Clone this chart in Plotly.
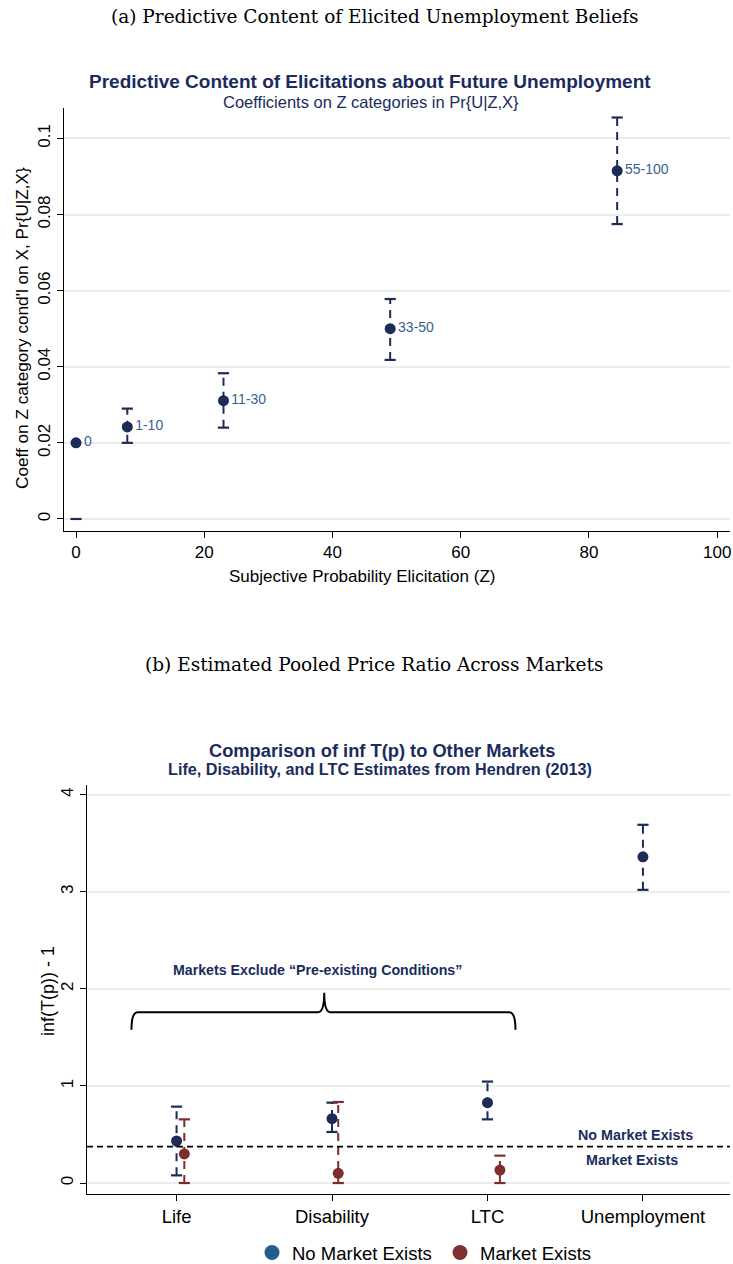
import plotly.graph_objects as go

# ---------------- Data: panel (a) ----------------
z_labels = ["0", "1-10", "11-30", "33-50", "55-100"]
z_x = [0, 8, 23, 49, 84.4]
z_coef = [0.020, 0.0242, 0.0311, 0.0500, 0.0915]
z_lo = [None, 0.0200, 0.0240, 0.0418, 0.0775]
z_hi = [None, 0.0290, 0.0383, 0.0578, 0.1055]
zero_cap_x = [0]
zero_cap_y = [0.0]

# ---------------- Data: panel (b) ----------------
markets = ["Life", "Disability", "LTC", "Unemployment"]
nm_x = [1.0, 2.0, 3.0, 4.0]
nm_val = [0.433, 0.663, 0.828, 3.36]
nm_lo = [0.079, 0.526, 0.656, 3.02]
nm_hi = [0.787, 0.828, 1.045, 3.69]
me_x = [1.05, 2.04, 3.08]
me_val = [0.30, 0.10, 0.134]
me_lo = [0.0, 0.0, 0.0]
me_hi = [0.656, 0.835, 0.282]
threshold = 0.374
bracket_x = [0.71, 1.95, 3.18]
bracket_y = [1.58, 1.76, 1.96]

NAVY = "#1c2b57"
LBL = "#3b5f8c"
TITLE = "#1a2c5e"
RED = "#7e2d2d"
LEG_BLUE = "#285b88"
LEG_RED = "#7f3030"
GRID = "#e8eeee"
FONT = "Liberation Sans"
EB_DASH = "8px,6px"

W, H = 733, 1264

fig = go.Figure()

# ----- panel (a) error bars (dashed) -----
for x, lo, hi in zip(z_x, z_lo, z_hi):
    if lo is None:
        continue
    fig.add_trace(go.Scatter(x=[x, x], y=[lo, hi], mode="lines",
                             line=dict(color=NAVY, width=2, dash=EB_DASH),
                             showlegend=False, hoverinfo="skip", xaxis="x", yaxis="y"))
caps_x = [x for x, lo in zip(z_x, z_lo) if lo is not None]
fig.add_trace(go.Scatter(x=caps_x * 2,
                         y=[v for v in z_lo if v is not None] + [v for v in z_hi if v is not None],
                         mode="markers", marker=dict(symbol="line-ew", size=8,
                                                     line=dict(color=NAVY, width=2.2)),
                         showlegend=False, hoverinfo="skip", xaxis="x", yaxis="y"))
fig.add_trace(go.Scatter(x=zero_cap_x, y=zero_cap_y, mode="markers",
                         marker=dict(symbol="line-ew", size=8, line=dict(color=NAVY, width=2.2)),
                         showlegend=False, hoverinfo="skip", xaxis="x", yaxis="y"))
fig.add_trace(go.Scatter(x=z_x, y=z_coef, mode="markers+text", text=z_labels,
                         textposition="middle right",
                         textfont=dict(family=FONT, size=14, color=LBL),
                         marker=dict(color=NAVY, size=11),
                         showlegend=False, xaxis="x", yaxis="y"))

# ----- panel (b) error bars -----
for x, lo, hi in zip(nm_x, nm_lo, nm_hi):
    fig.add_trace(go.Scatter(x=[x, x], y=[lo, hi], mode="lines",
                             line=dict(color=NAVY, width=2, dash=EB_DASH),
                             showlegend=False, hoverinfo="skip", xaxis="x2", yaxis="y2"))
for x, lo, hi in zip(me_x, me_lo, me_hi):
    fig.add_trace(go.Scatter(x=[x, x], y=[lo, hi], mode="lines",
                             line=dict(color=RED, width=2, dash=EB_DASH),
                             showlegend=False, hoverinfo="skip", xaxis="x2", yaxis="y2"))
fig.add_trace(go.Scatter(x=nm_x * 2, y=nm_lo + nm_hi, mode="markers",
                         marker=dict(symbol="line-ew", size=8, line=dict(color=NAVY, width=2.2)),
                         showlegend=False, hoverinfo="skip", xaxis="x2", yaxis="y2"))
fig.add_trace(go.Scatter(x=me_x * 2, y=me_lo + me_hi, mode="markers",
                         marker=dict(symbol="line-ew", size=8, line=dict(color=RED, width=2.2)),
                         showlegend=False, hoverinfo="skip", xaxis="x2", yaxis="y2"))
fig.add_trace(go.Scatter(x=nm_x, y=nm_val, mode="markers",
                         marker=dict(color=NAVY, size=11),
                         showlegend=False, xaxis="x2", yaxis="y2"))
fig.add_trace(go.Scatter(x=me_x, y=me_val, mode="markers",
                         marker=dict(color=RED, size=11),
                         showlegend=False, xaxis="x2", yaxis="y2"))
# legend-only traces
fig.add_trace(go.Scatter(x=[None], y=[None], mode="markers", name="No Market Exists",
                         marker=dict(color=LEG_BLUE, size=15), xaxis="x2", yaxis="y2",
                         legend="legend"))
fig.add_trace(go.Scatter(x=[None], y=[None], mode="markers", name="Market Exists",
                         marker=dict(color=LEG_RED, size=15), xaxis="x2", yaxis="y2",
                         legend="legend2"))

# threshold line
fig.add_shape(type="line", xref="x2 domain", yref="y2", x0=0, x1=1,
              y0=threshold, y1=threshold, line=dict(color="black", width=1.8, dash="6px,4px"))

# bracket
bx0, bxm, bx1 = bracket_x
by0, bym, byt = bracket_y
r = 0.04
path = (f"M {bx0},{by0} Q {bx0},{bym} {bx0+r},{bym} "
        f"L {bxm-r},{bym} Q {bxm},{bym} {bxm},{byt} "
        f"Q {bxm},{bym} {bxm+r},{bym} L {bx1-r},{bym} Q {bx1},{bym} {bx1},{by0}")
fig.add_shape(type="path", xref="x2", yref="y2", path=path,
              line=dict(color="black", width=2))

def px_y(p):
    return 1 - p / H

def px_x(p):
    return p / W

def note(text, x, y, size, color="black", family=FONT, angle=0):
    return dict(text=text, x=px_x(x), y=px_y(y), xref="paper", yref="paper",
                showarrow=False, xanchor="center", yanchor="middle", textangle=angle,
                font=dict(family=family, size=size, color=color))

ann = [
    note("(a) Predictive Content of Elicited Unemployment Beliefs", 374, 17, 18.5,
         family="DejaVu Serif"),
    note("(b) Estimated Pooled Price Ratio Across Markets", 374, 664, 18.5,
         family="DejaVu Serif"),
    note("<b>Predictive Content of Elicitations about Future Unemployment</b>", 370, 81, 19,
         color=TITLE),
    note("Coefficients on Z categories in Pr{U|Z,X}", 371, 102, 16.5, color=TITLE),
    note("Coeff on Z category cond'l on X, Pr{U|Z,X}", 22, 328, 17.2, angle=-90),
    note("Subjective Probability Elicitation (Z)", 362, 576, 17),
    note("<b>Comparison of inf T(p) to Other Markets</b>", 382, 750, 18.3, color=TITLE),
    note("<b>Life, Disability, and LTC Estimates from Hendren (2013)</b>", 380, 769, 16.2,
         color=TITLE),
    note("inf(T(p)) - 1", 48, 991, 18, angle=-90),
    note("<b>Markets Exclude “Pre-existing Conditions”</b>", 317, 970, 14.2, color=TITLE),
    note("<b>No Market Exists</b>", 635, 1135, 14.3, color=TITLE),
    note("<b>Market Exists</b>", 632, 1160, 14.3, color=TITLE),
]

leg_common = dict(orientation="h", xanchor="left", yanchor="middle", y=px_y(1253),
                  font=dict(family=FONT, size=18.5, color="black"), itemwidth=30,
                  bgcolor="rgba(0,0,0,0)")

fig.update_layout(
    width=W, height=H, margin=dict(l=0, r=0, t=0, b=0, autoexpand=False),
    paper_bgcolor="white", plot_bgcolor="white",
    font=dict(family=FONT, size=15, color="black"),
    annotations=ann,
    showlegend=True,
    legend=dict(x=px_x(252), **leg_common),
    legend2=dict(x=px_x(440), **leg_common),
    xaxis=dict(domain=[px_x(64), px_x(730)], range=[-1.875, 102], anchor="y",
               showgrid=False, zeroline=False, showline=True, linecolor="black", linewidth=1,
               ticks="outside", ticklen=6, tickcolor="black", tickvals=[0, 20, 40, 60, 80, 100],
               tickfont=dict(size=17)),
    yaxis=dict(domain=[px_y(531), px_y(108)], range=[-0.00316, 0.108], anchor="x",
               showgrid=True, gridcolor=GRID, gridwidth=1.5, zeroline=False,
               showline=True, linecolor="black", linewidth=1,
               ticks="outside", ticklen=6, tickcolor="black",
               tickvals=[0, 0.02, 0.04, 0.06, 0.08, 0.1],
               ticktext=["0", "0.02", "0.04", "0.06", "0.08", "0.1"],
               tickangle=-90, tickfont=dict(size=17)),
    xaxis2=dict(domain=[px_x(87), px_x(730)], range=[0.424, 4.56], anchor="y2",
                showgrid=False, zeroline=False, showline=True, linecolor="black", linewidth=1,
                ticks="outside", ticklen=6, tickcolor="black",
                tickvals=nm_x, ticktext=markets, tickfont=dict(size=18.5)),
    yaxis2=dict(domain=[px_y(1194), px_y(785)], range=[-0.113, 4.1], anchor="x2",
                showgrid=True, gridcolor=GRID, gridwidth=1.5, zeroline=False,
                showline=True, linecolor="black", linewidth=1,
                ticks="outside", ticklen=6, tickcolor="black",
                tickvals=[0, 1, 2, 3, 4], tickangle=-90, tickfont=dict(size=17)),
)

fig.write_html("out.html", config={"displayModeBar": False},
               post_script="document.body.style.margin='0px';")
